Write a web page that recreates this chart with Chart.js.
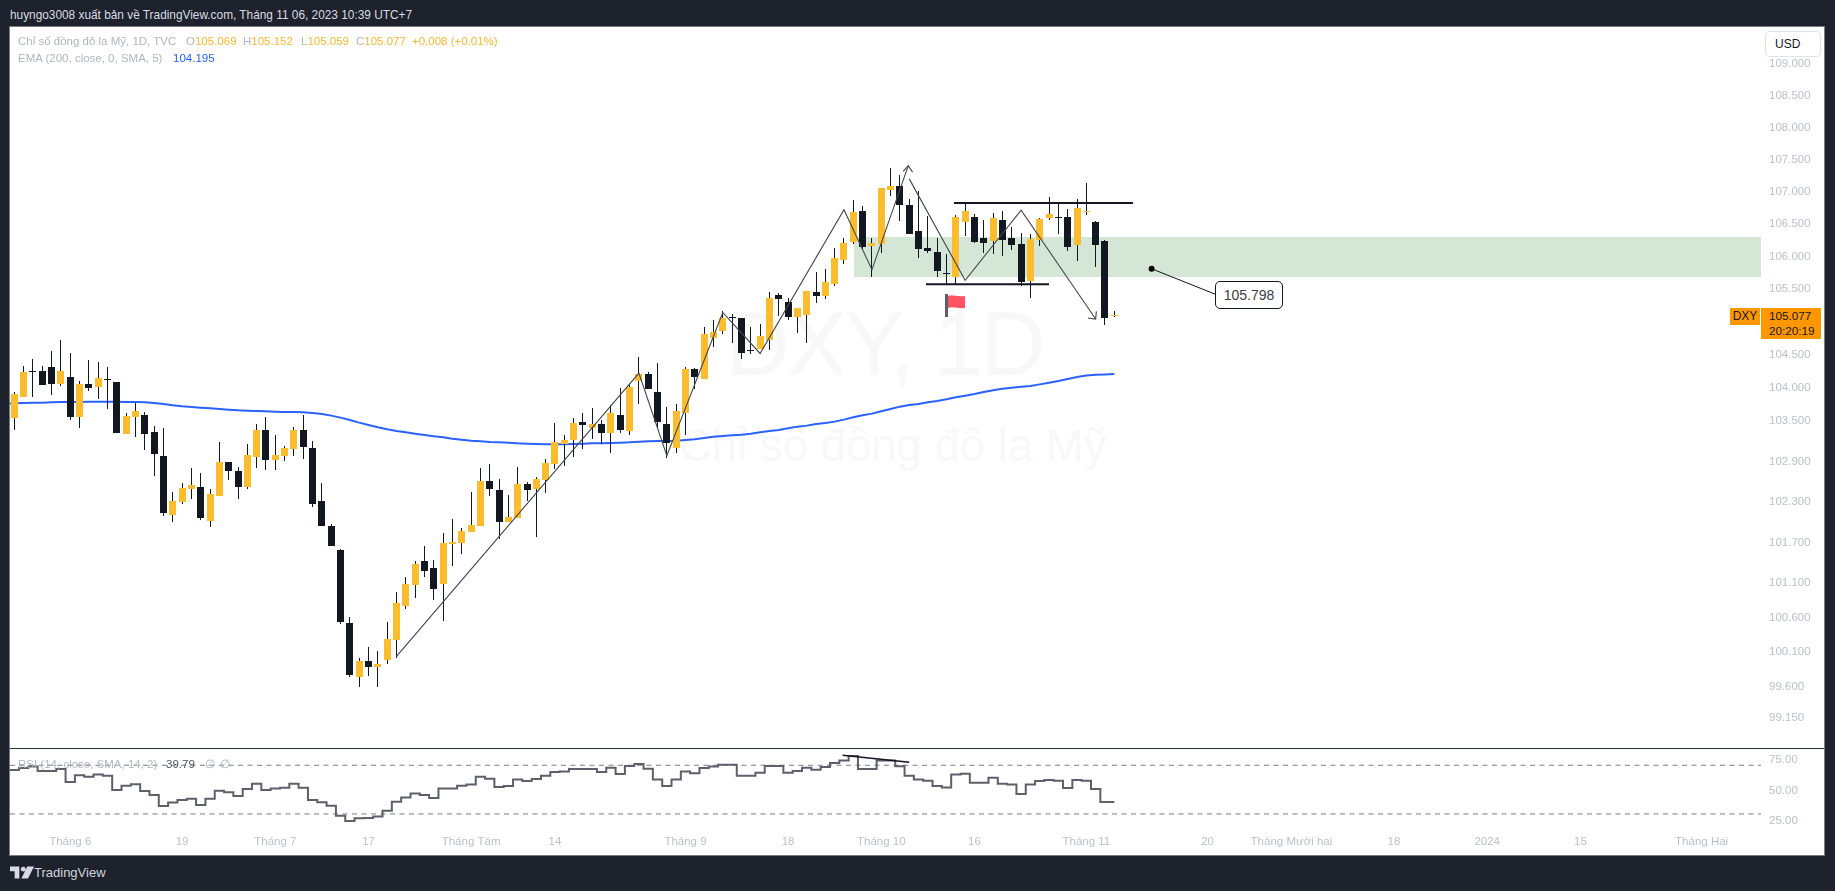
<!DOCTYPE html>
<html lang="vi">
<head>
<meta charset="utf-8">
<title>DXY, 1D</title>
<script src="https://cdn.jsdelivr.net/npm/chart.js@4/dist/chart.umd.min.js"></script>
<style>
html,body{margin:0;padding:0;background:#1e222d;width:1835px;height:891px;overflow:hidden;font-family:"Liberation Sans",Arial,sans-serif}
.abs{position:absolute;white-space:nowrap}
#panel{position:absolute;left:9px;top:26px;width:1816px;height:830px;box-sizing:border-box;background:#fff;border:1px solid #787b86}
#sep{position:absolute;left:10px;top:747.5px;width:1814px;height:1.5px;background:#2a2e39}
canvas{position:absolute;left:10px}
.lg{font-size:11.5px;line-height:14px;color:#b2b5be}
.or{color:#fcb62b}
</style>
</head>
<body>
<div id="panel"></div>
<div class="abs" style="left:725px;top:289px;font-size:90px;line-height:110px;letter-spacing:-3px;color:#f8f8f9">DXY, 1D</div>
<div class="abs" style="left:679px;top:416px;font-size:45.5px;line-height:60px;color:#f8f8f9">Chỉ số đồng đô la Mỹ</div>
<canvas id="price" width="1814" height="721" style="top:27px"></canvas>
<canvas id="rsi" width="1814" height="106" style="top:749px"></canvas>
<div id="sep"></div>

<div class="abs" style="left:10px;top:8px;font-size:11.85px;line-height:14px;color:#d9dbe2">huyngo3008 xuất bản về TradingView.com, Tháng 11 06, 2023 10:39 UTC+7</div>
<div class="abs lg" style="left:18px;top:34px">Chỉ số đồng đô la Mỹ, 1D, TVC</div>
<div class="abs lg" style="left:186px;top:34px">O<span class="or">105.069</span></div>
<div class="abs lg" style="left:243px;top:34px">H<span class="or">105.152</span></div>
<div class="abs lg" style="left:301px;top:34px">L<span class="or">105.059</span></div>
<div class="abs lg" style="left:356px;top:34px">C<span class="or">105.077</span></div>
<div class="abs lg or" style="left:412px;top:34px">+0.008 (+0.01%)</div>
<div class="abs lg" style="left:18px;top:51px">EMA (200, close, 0, SMA, 5)</div>
<div class="abs lg" style="left:173px;top:51px;color:#2962ff">104.195</div>
<div class="abs lg" style="left:18px;top:757px">RSI (14, close, SMA, 14, 2)</div>
<div class="abs lg" style="left:166px;top:757px;color:#50535e">39.79</div>
<div class="abs lg" style="left:205px;top:757px">∅</div>
<div class="abs lg" style="left:220px;top:757px">∅</div>

<div class="abs" style="left:1765px;top:31px;width:56px;height:26px;box-sizing:border-box;border:1px solid #e0e3eb;border-radius:4px;background:#fff;color:#131722;font-size:12px;line-height:24px;padding-left:9px">USD</div>
<div class="abs" style="left:1730px;top:308px;width:30px;height:17px;background:#ff9800;color:#131722;font-size:12px;line-height:17px;text-align:center">DXY</div>
<div class="abs" style="left:1761px;top:308px;width:60px;height:31px;background:#ff9800;color:#131722;font-size:11.7px;line-height:14.5px;padding-left:8px;box-sizing:border-box;padding-top:1px">105.077<br>20:20:19</div>

<div class="abs" style="left:1215px;top:281px;width:68px;height:28px;box-sizing:border-box;border:1px solid #131722;border-radius:5px;background:#fff;color:#3b3d45;font-size:14px;line-height:26px;text-align:center">105.798</div>

<svg class="abs" style="left:944px;top:293px" width="24" height="25" viewBox="0 0 24 25">
  <rect x="1" y="1" width="3" height="23" fill="#5d606b"/>
  <path d="M4 3 C8 1 12 4 21 3 V15 C15 16 9 13 4 15 Z" fill="#ff5262"/>
</svg>

<svg class="abs" style="left:10px;top:866px" width="24" height="13" viewBox="0 0 36 18" fill="#d9dbe2">
  <path d="M0 0H14V18H7V7H0Z"/><circle cx="20" cy="4" r="3.6"/><path d="M26 0H36L27 18H17Z"/>
</svg>
<div class="abs" style="left:34px;top:864px;font-size:13px;line-height:18px;color:#d1d4dc">TradingView</div>

<script>
const opens=[103.54,103.85,104.24,104.24,104.30,104.045,104.15,103.55,104.045,104.00,
104.12,104.075,103.295,103.55,103.58,103.325,102.965,102.095,102.275,102.47,
102.50,102.005,102.365,102.875,102.74,102.50,102.95,103.355,102.905,102.965,
103.07,103.355,103.085,102.29,101.93,101.57,100.505,99.725,99.945,99.86,
99.96,100.25,100.755,101.06,101.415,101.31,101.075,101.66,101.675,101.84,
101.93,102.59,102.455,101.99,102.05,102.545,102.47,102.605,102.845,103.145,
103.205,103.475,103.385,103.445,103.31,103.58,103.34,104.09,104.195,103.925,
103.445,103.085,103.61,104.27,104.12,104.735,104.855,105.06,105.05,104.55,
104.57,104.712,105.389,105.292,105.066,105.097,105.435,105.374,105.558,105.928,
106.205,106.682,106.143,106.174,107.02,107.067,106.774,106.374,106.112,106.051,
105.735,105.666,106.513,106.59,106.266,106.22,106.543,106.266,106.174,105.605,
106.236,106.574,106.59,106.59,106.159,106.667,106.513,106.22,105.069];
const closes=[103.895,104.225,104.23,104.03,104.045,104.24,103.55,104.045,103.985,104.135,
104.11,103.31,103.565,103.64,103.295,102.995,102.125,102.29,102.485,102.53,
102.05,102.395,102.875,102.74,102.50,102.98,103.355,102.905,102.98,103.085,
103.355,103.10,102.245,101.93,101.63,100.52,99.755,99.945,99.86,99.915,
100.275,100.795,101.075,101.37,101.265,101.0,101.675,101.69,101.855,101.945,
102.59,102.47,101.99,102.065,102.545,102.455,102.62,102.86,103.175,103.205,
103.46,103.43,103.445,103.31,103.61,103.355,104.00,104.195,103.97,103.475,
103.16,103.64,104.27,104.15,104.795,104.84,105.05,105.05,104.51,104.54,
104.765,105.343,105.328,105.066,105.204,105.451,105.374,105.589,105.959,106.189,
106.667,106.128,106.189,107.036,107.082,106.774,106.328,106.097,106.071,105.759,
105.725,106.59,106.682,106.205,106.189,106.574,106.236,106.159,105.589,106.251,
106.559,106.636,106.58,106.128,106.728,106.682,106.159,105.051,105.077];
const highs=[103.92,104.315,104.42,104.32,104.54,104.705,104.51,104.09,104.405,104.375,
104.30,104.075,103.61,103.76,103.625,103.415,103.385,102.425,102.56,102.785,
102.71,102.47,103.175,102.875,102.80,103.145,103.445,103.55,103.28,103.115,
103.40,103.58,103.19,102.56,101.96,101.585,100.595,100.00,100.16,100.09,
100.52,100.96,101.18,101.415,101.63,101.43,101.825,102.035,101.895,102.425,
102.785,102.845,102.62,102.38,102.80,102.575,102.65,102.92,103.46,103.28,
103.535,103.61,103.685,103.505,103.73,103.985,104.03,104.45,104.225,104.36,
103.70,103.745,104.30,104.285,104.915,105.02,105.155,105.11,105.05,104.915,
104.96,105.435,105.42,105.358,105.204,105.451,105.743,105.79,106.112,106.266,
106.851,106.759,106.266,107.051,107.359,107.251,106.867,106.99,106.605,106.266,
106.02,106.62,106.82,106.636,106.543,106.651,106.682,106.436,106.343,106.328,
106.574,106.897,106.805,106.713,106.867,107.128,106.528,106.236,105.152];
const lows=[103.36,103.85,103.85,104.03,103.88,104.02,103.51,103.385,103.94,103.82,
103.67,103.31,103.295,103.25,103.055,102.665,102.08,101.99,102.245,102.32,
102.02,101.915,102.365,102.605,102.32,102.47,102.785,102.755,102.755,102.89,
102.965,102.92,102.215,101.93,101.63,100.49,99.725,99.57,99.74,99.57,
99.915,100.00,100.71,100.87,101.18,100.84,100.535,101.34,101.51,101.84,
101.93,102.365,101.735,101.99,102.05,102.29,101.765,102.41,102.77,102.815,
102.95,103.07,103.22,103.145,103.01,103.31,103.28,103.745,103.97,103.37,
102.935,103.01,103.28,103.97,104.12,104.60,104.81,104.66,104.42,104.495,
104.57,104.558,105.081,105.02,104.82,104.666,105.281,105.328,105.528,105.866,
106.174,106.097,105.666,106.046,106.913,106.528,106.328,105.959,106.036,105.666,
105.558,105.543,106.297,106.189,106.036,106.02,105.989,106.082,105.528,105.358,
106.143,106.543,106.328,106.066,105.912,106.62,105.82,104.943,105.059];
// EMA 200: first value is the bar just left of the visible window
const ema200=[103.75,103.755,103.76,103.765,103.765,103.77,103.775,103.775,103.775,103.78,103.78,103.78,103.78,
103.775,103.775,103.77,103.76,103.745,103.725,103.71,103.70,103.69,103.68,103.67,103.66,103.65,103.645,103.64,
103.635,103.63,103.625,103.625,103.62,103.61,103.595,103.57,103.54,103.505,103.465,103.43,103.395,103.365,103.34,
103.32,103.30,103.28,103.26,103.245,103.225,103.21,103.195,103.185,103.175,103.17,103.165,103.155,103.15,103.145,
103.14,103.14,103.14,103.145,103.15,103.155,103.155,103.16,103.165,103.17,103.18,103.185,103.19,103.19,103.195,
103.205,103.215,103.235,103.255,103.265,103.275,103.285,103.30,103.32,103.34,103.355,103.38,103.405,103.42,103.445,
103.46,103.48,103.51,103.545,103.575,103.60,103.635,103.67,103.705,103.73,103.745,103.77,103.79,103.815,103.845,
103.87,103.895,103.925,103.95,103.975,103.99,104.005,104.015,104.04,104.065,104.09,104.12,104.15,104.175,104.185,104.19,104.195];
const rsiValues=[66.1,67.8,68.9,65.3,65.3,66.9,56.3,61.7,60.6,62.3,61.4,49.7,53.2,54.3,48.9,45.6,36.5,39.3,41.4,42.5,
37.3,42.5,49.1,47.8,44.8,50.5,54.9,49.7,50.8,51.6,54.9,51.6,41.4,39.5,36.8,28.6,24.2,26.4,26.7,27.8,
32.7,40.1,43.4,46.7,45.6,43.1,50.8,50.8,53.2,54.1,60.6,59.0,52.1,52.9,58.2,57.1,58.7,61.4,64.5,64.8,
66.9,66.9,66.9,64.5,68.0,62.8,69.4,71.0,67.2,58.2,52.9,58.2,64.8,63.4,67.8,68.9,70.5,70.5,61.4,61.4,
63.9,69.4,69.4,63.9,65.3,68.0,66.4,68.6,71.9,73.8,77.6,66.9,66.9,73.8,73.8,69.1,61.4,58.2,57.3,52.9,
51.8,62.5,63.1,55.7,55.7,59.8,54.9,54.1,46.4,54.1,57.1,57.9,57.3,51.3,57.9,57.3,50.5,39.79,39.79];

const priceTicks=[109,108.5,108,107.5,107,106.5,106,105.5,105,104.5,104,103.5,102.9,102.3,101.7,101.1,100.6,100.1,99.6,99.15];
const rsiTicks=[75,50,25];
const rsiLevels=[70,30];
const timeTickBars=[6,18,28,38,49,58,72,83,93,103,115,128,137,148,158,168,181];
const timeTickLabels=["Tháng 6","19","Tháng 7","17","Tháng Tám","14","Tháng 9","18","Tháng 10","16","Tháng 11","20","Tháng Mười hai","18","2024","15","Tháng Hai"];

const priceMin=98.70, priceMax=109.57;
const barMin=-0.461, barMax=187.37;
const rsiMin=16.8, rsiMax=83.35;

// Drawings, in bar-index and price units
const zigzagUpBars=[41,67,70,76,80,89,92,95.9];
const zigzagUpPrices=[100.02,104.21,102.97,105.13,104.507,106.708,105.784,107.39];
const arrowUpBars=[95.35,95.9,96.35];
const arrowUpPrices=[107.3,107.39,107.29];
const zigzagDownBars=[96,102,108,116];
const zigzagDownPrices=[107.185,105.62,106.70,105.03];
const arrowDownBars=[115.18,116,116.07];
const arrowDownPrices=[105.045,105.03,105.147];
const resistanceBars=[100.8,120];
const resistancePrice=106.81;
const supportBars=[97.8,111];
const supportPrice=105.56;
const zoneStartBar=90.08, zoneHigh=106.28, zoneLow=105.67;
const calloutBars=[122,128.8];
const calloutPrices=[105.798,105.41];
const rsiTrendBars=[88.85,96];
const rsiTrendValues=[78.2,72.4];

const UP="#fbbc2d", DOWN="#131722", GREY="#bcbfc9";
const tickFont={family:'"Liberation Sans",Arial,sans-serif',size:11.5};
const pts=(xs,ys)=>xs.map((x,i)=>({x,y:ys[i]}));
const line=(data,color,width,extra)=>Object.assign({type:'line',data,borderColor:color,borderWidth:width,pointRadius:0,tension:0,order:0,fill:false},extra||{});
const noPad=s=>{s.paddingLeft=s.paddingRight=s.paddingTop=s.paddingBottom=0};
const noGrid={display:false,drawTicks:false};

const snapBars={id:'snapBars',afterDatasetsUpdate(chart){
  chart.data.datasets.forEach((d,di)=>{
    if(d.type!=='bar')return;
    chart.getDatasetMeta(di).data.forEach(el=>{
      el.x=Math.floor(el.x)+0.5;
      el.y=Math.round(el.y);el.base=Math.round(el.base);
      if(el.y===el.base)el.y-=1;
    });
  });
}};
const zone={id:'zone',beforeDatasetsDraw(chart){
  const {ctx,scales:{x,y},chartArea:a}=chart;
  const l=Math.round(x.getPixelForValue(zoneStartBar)),t=Math.round(y.getPixelForValue(zoneHigh)),b=Math.round(y.getPixelForValue(zoneLow));
  ctx.save();ctx.fillStyle='#d4e6d5';ctx.fillRect(l,t,a.right-l,b-t);ctx.restore();
}};

new Chart(document.getElementById('price'),{
  type:'bar',
  plugins:[snapBars,zone],
  data:{datasets:[
    line(pts(zigzagUpBars,zigzagUpPrices),'#43464f',1.1),
    line(pts(arrowUpBars,arrowUpPrices),'#43464f',1.1),
    line(pts(zigzagDownBars,zigzagDownPrices),'#43464f',1.1),
    line(pts(arrowDownBars,arrowDownPrices),'#43464f',1.1),
    line(pts(resistanceBars,resistanceBars.map(()=>resistancePrice)),'#131722',2),
    line(pts(supportBars,supportBars.map(()=>supportPrice)),'#131722',2),
    line(pts(calloutBars,calloutPrices),'#131722',1,{pointRadius:[3,0],pointBackgroundColor:'#000',pointBorderWidth:0}),
    {type:'bar',order:1,barThickness:7,inflateAmount:0,borderWidth:0,grouped:false,
     data:opens.map((o,i)=>({x:i,y:[o,closes[i]]})),
     backgroundColor:opens.map((o,i)=>closes[i]>=o?UP:DOWN)},
    {type:'bar',order:2,barThickness:1,inflateAmount:0,borderWidth:0,grouped:false,
     data:lows.map((l,i)=>({x:i,y:[l,highs[i]]})),backgroundColor:'#131722'},
    line(ema200.map((v,i)=>({x:i-1,y:v})),'#2962ff',2,{order:3})
  ]},
  options:{
    responsive:false,animation:false,events:[],
    layout:{padding:0,autoPadding:false},
    plugins:{legend:{display:false},tooltip:{enabled:false}},
    datasets:{bar:{grouped:false}},
    scales:{
      x:{type:'linear',display:false,min:barMin,max:barMax,offset:false,grid:noGrid,afterFit:noPad},
      y:{type:'logarithmic',position:'right',min:priceMin,max:priceMax,
         grid:noGrid,border:{display:false},
         afterFit(s){s.width=63;noPad(s)},
         afterBuildTicks(s){s.ticks=priceTicks.map(v=>({value:v}))},
         ticks:{color:GREY,font:tickFont,padding:8,labelOffset:1,autoSkip:false,callback:v=>Number(v).toFixed(3)}}
    }
  }
});

new Chart(document.getElementById('rsi'),{
  type:'line',
  data:{datasets:[
    line(pts([barMin,barMax],[rsiLevels[0],rsiLevels[0]]),'#787b86',1,{borderDash:[5,4.5],order:3}),
    line(pts([barMin,barMax],[rsiLevels[1],rsiLevels[1]]),'#787b86',1,{borderDash:[5,4.5],order:3}),
    line([{x:-0.5,y:rsiValues[0]}].concat(rsiValues.map((v,i)=>({x:i,y:v}))),'#5d606b',2,{stepped:'middle',order:1}),
    line(pts(rsiTrendBars,rsiTrendValues),'#131722',1.5,{order:0})
  ]},
  options:{
    responsive:false,animation:false,events:[],
    layout:{padding:0,autoPadding:false},
    plugins:{legend:{display:false},tooltip:{enabled:false}},
    scales:{
      x:{type:'linear',position:'bottom',min:barMin,max:barMax,grid:noGrid,border:{display:false},
         afterFit(s){s.height=25;noPad(s)},
         afterBuildTicks(s){s.ticks=timeTickBars.map(v=>({value:v}))},
         ticks:{color:GREY,font:tickFont,padding:5,autoSkip:false,maxRotation:0,minRotation:0,
                callback:(v,i)=>timeTickLabels[i]}},
      y:{type:'linear',position:'right',min:rsiMin,max:rsiMax,grid:noGrid,border:{display:false},
         afterFit(s){s.width=63;noPad(s)},
         afterBuildTicks(s){s.ticks=rsiTicks.map(v=>({value:v}))},
         ticks:{color:GREY,font:tickFont,padding:8,labelOffset:1,autoSkip:false,callback:v=>Number(v).toFixed(2)}}
    }
  }
});
</script>
</body>
</html>
